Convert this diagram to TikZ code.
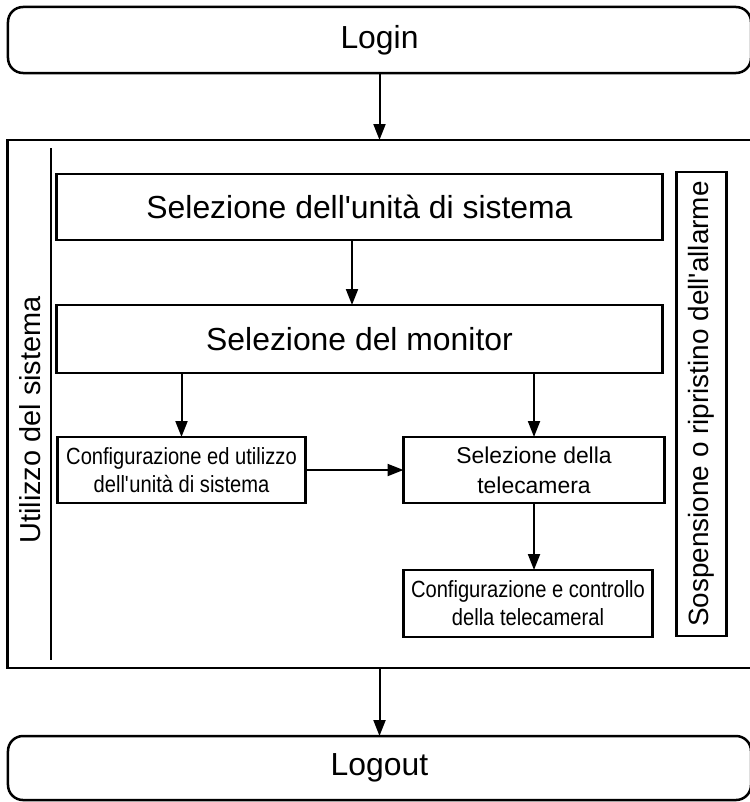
\documentclass[tikz,border=0pt]{standalone}
\usepackage{fontspec}
\setmainfont{Liberation Sans}
\newfontfamily\narrowfont[FakeStretch=0.86]{Liberation Sans}
\usetikzlibrary{arrows.meta,positioning}
\tikzstyle{edge}=[
	-{Triangle[length=16bp,width=12bp]},
	line width=2bp,
	draw=black
]
\tikzstyle{tbox}=[
	draw=black,
	line width=2.5bp,
	outer sep=0pt,
	inner sep=1mm,
	align=center
]
\tikzstyle{terminal}=[
	tbox,
	rounded corners=15bp,
	minimum width=743bp,
	minimum height=66bp,
	font=\fontsize{32}{36}\selectfont
]
\tikzstyle{bigbox}=[
	tbox,
	minimum width=606bp,
	minimum height=66bp,
	font=\fontsize{32}{36}\selectfont
]
\tikzstyle{smallbox}=[
	tbox,
	minimum height=66bp,
	font=\narrowfont\fontsize{23.5}{28}\selectfont
]
\tikzstyle{midbox}=[
	tbox,
	minimum height=66bp,
	font=\fontsize{23}{30}\selectfont
]
\begin{document}
\begin{tikzpicture}[x=1bp,y=-1bp]
\useasboundingbox (0,0) rectangle (750,802);
\node[terminal] (login) at (379.5,40) {Login};
\node[tbox, minimum width=744bp, minimum height=528bp, below=67bp of login] (system) {};
\node[bigbox, below right=34bp and 49bp of system.north west] (unitsel) {Selezione dell\textquotesingle unit\`a di sistema};
\node[bigbox, below=65bp of unitsel, minimum height=68bp] (monsel) {Selezione del monitor};
\node[smallbox, minimum width=248bp, below right=64bp and 1bp of monsel.south west] (cfgunit) {Configurazione ed utilizzo\\dell\textquotesingle unit\`a di sistema};
\node[midbox, minimum width=261bp, right=98bp of cfgunit] (camsel) {Selezione della\\telecamera};
\node[smallbox, minimum width=249bp, minimum height=67bp, below right=67bp and 0bp of camsel.south west] (cfgcam) {Configurazione e controllo\\della telecameral};
\node[tbox, minimum width=50bp, minimum height=464bp, below right=-2bp and 14bp of unitsel.north east] (alarm) {};
\node[rotate=90, font=\fontsize{28}{32}\selectfont] (alarmtxt) at (alarm.center) {Sospensione o ripristino dell\textquotesingle allarme};
\node[rotate=90, font=\fontsize{29}{32}\selectfont] (usage) at (30,420) {Utilizzo del sistema};
\coordinate (linetop) at (51,148);
\coordinate (linebot) at (51,660);
\node[terminal, below=68bp of system, minimum height=64bp] (logout) {Logout};

\draw[line width=2.5bp] (linetop) to (linebot);
\draw[edge] (login.south) to (login.south |- system.north);
\draw[edge] (unitsel.south -| 352,0) to (monsel.north -| 352,0);
\draw[edge] (cfgunit.north |- monsel.south) to (cfgunit.north);
\draw[edge] (camsel.north |- monsel.south) to (camsel.north);
\draw[edge] (cfgunit.east) to (camsel.west);
\draw[edge] (camsel.south) to (camsel.south |- cfgcam.north);
\draw[edge] (system.south -| login.south) to (logout.north -| login.south);
\end{tikzpicture}
\end{document}
